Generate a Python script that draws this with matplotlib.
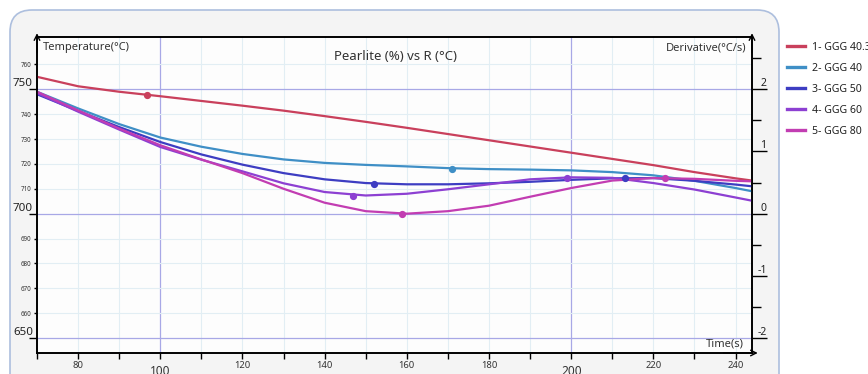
import numpy as np
import matplotlib
matplotlib.use('Agg')
import matplotlib.pyplot as plt
from matplotlib.patches import FancyBboxPatch
from matplotlib.ticker import FixedLocator, FuncFormatter
from matplotlib.lines import Line2D

plt.rcParams['font.family'] = ['Noto Sans', 'DejaVu Sans']
plt.rcParams['axes.unicode_minus'] = False

# --- data ----------------------------------------------------------------
time_s = [70, 80, 90, 100, 110, 120, 130, 140, 150, 160, 170, 180, 190, 200, 210, 220, 230, 240, 244]

ggg_403 = [755.0, 751.2, 749.0, 747.2, 745.3, 743.4, 741.4, 739.2, 736.9, 734.5, 732.0, 729.5, 727.0, 724.5, 722.0, 719.5, 716.7, 714.2, 713.3]
ggg_40 = [749.0, 742.3, 736.0, 730.6, 726.9, 724.0, 721.8, 720.4, 719.6, 719.0, 718.3, 717.9, 717.7, 717.4, 716.7, 715.4, 713.2, 710.3, 709.0]
ggg_50 = [748.0, 741.3, 734.8, 728.8, 723.8, 719.7, 716.3, 713.8, 712.3, 711.8, 711.8, 712.2, 712.8, 713.6, 714.2, 714.3, 713.2, 711.7, 711.0]
ggg_60 = [748.5, 741.0, 733.8, 726.8, 721.7, 717.0, 712.2, 708.7, 707.3, 708.0, 709.8, 711.8, 713.8, 714.6, 714.4, 712.3, 709.7, 706.5, 705.2]
ggg_80 = [749.0, 741.5, 734.2, 727.5, 721.8, 716.3, 710.0, 704.4, 701.0, 700.0, 701.0, 703.2, 706.8, 710.3, 713.3, 714.3, 714.0, 713.2, 713.0]

# marked points on each curve
mark_x_403, mark_y_403 = [96.8], [747.8]
mark_x_40, mark_y_40 = [170.9], [718.1]
mark_x_50, mark_y_50 = [152.0, 213.0], [712.0, 714.5]
mark_x_60, mark_y_60 = [147.0, 198.9], [707.2, 714.3]
mark_x_80, mark_y_80 = [158.9, 222.9], [699.9, 714.3]

series_names = ['1- GGG 40.3', '2- GGG 40', '3- GGG 50', '4- GGG 60', '5- GGG 80']
series_colors = ['#c9405c', '#3f8fc6', '#3d3dc2', '#8d40d2', '#c23db2']

x_ticks = np.arange(70, 250, 10)
x_small_labels = [80, 120, 140, 160, 180, 220, 240]
x_big_labels = [100, 200]
y_big_labels = [650, 700, 750]
y_small_ticks = np.arange(660, 761, 10)
deriv_labels = [-2, -1, 0, 1, 2]
deriv_minor = [-1.5, -0.5, 0.5, 1.5, 2.5]
deriv_zero_temp, deg_per_unit = 700, 25

W, H = 868, 374
fig = plt.figure(figsize=(W / 100, H / 100), dpi=100)
fig.patch.set_facecolor('white')

# --- window background -----------------------------------------------------
bg = fig.add_axes([0, 0, 1, 1], zorder=-5)
bg.set_xlim(0, W)
bg.set_ylim(H, 0)
bg.axis('off')
panel = FancyBboxPatch((10, 10), 769, 420, boxstyle='round,pad=0,rounding_size=22',
                       fc='#f4f4f4', ec='#adbfde', lw=1.2)
bg.add_patch(panel)
grad = np.linspace(0, 1, 60).reshape(-1, 1)
im = bg.imshow(grad, extent=(10, 779, 40, 10), cmap=matplotlib.colors.LinearSegmentedColormap.from_list(
    'hdr', ['#d9d9d9', '#eeeeee']), aspect='auto')
im.set_clip_path(panel)

# --- main axes ---------------------------------------------------------------
ax = fig.add_axes([37 / W, 21 / H, 715 / W, 316 / H])
ax.set_facecolor('#fdfdfd')

datasets = [ggg_403, ggg_40, ggg_50, ggg_60, ggg_80]
marks = [(mark_x_403, mark_y_403), (mark_x_40, mark_y_40), (mark_x_50, mark_y_50),
         (mark_x_60, mark_y_60), (mark_x_80, mark_y_80)]
for vals, (mx, my), c in zip(datasets, marks, series_colors):
    ax.plot(time_s, vals, color=c, lw=1.6, zorder=3, solid_joinstyle='round')
    ax.plot(mx, my, 'o', color=c, ms=4.2, zorder=4)

ax.set_xlim(70, 244)
ax.set_ylim(644, 771)

ax.xaxis.set_major_locator(FixedLocator(x_big_labels))
ax.xaxis.set_minor_locator(FixedLocator(x_ticks))
ax.xaxis.set_minor_formatter(FuncFormatter(lambda v, p: f'{v:.0f}' if round(v) in x_small_labels else ''))
ax.tick_params(axis='x', which='both', direction='out', length=4.3, width=1, color='black')
ax.tick_params(axis='x', which='major', labelsize=8.5, pad=4, labelcolor='#333333')
ax.tick_params(axis='x', which='minor', labelsize=6.8, pad=1.5, labelcolor='#333333')

ax.yaxis.set_major_locator(FixedLocator(y_big_labels))
ax.yaxis.set_minor_locator(FixedLocator(y_small_ticks))
ax.yaxis.set_minor_formatter(FuncFormatter(lambda v, p: f'{v:.0f}'))
ax.tick_params(axis='y', which='major', length=5.8, width=1, labelsize=8.3, pad=-2.9, labelcolor='#222222')
ax.tick_params(axis='y', which='minor', length=2.5, width=1, labelsize=4.5, pad=1.5, labelcolor='#333333')
for lab in ax.get_yticklabels():
    lab.set_va('bottom')

ax.grid(True, which='minor', color='#e2eef4', lw=0.8)
ax.grid(True, which='major', color='#a8a8e6', lw=0.9)
ax.set_axisbelow(True)

for sp in ax.spines.values():
    sp.set_color('black')
    sp.set_linewidth(1.2)

# --- derivative axis -------------------------------------------------------
ax2 = ax.twinx()
ax2.set_ylim((644 - deriv_zero_temp) / deg_per_unit, (771 - deriv_zero_temp) / deg_per_unit)
ax2.yaxis.set_major_locator(FixedLocator(deriv_labels))
ax2.yaxis.set_minor_locator(FixedLocator(deriv_minor))
ax2.tick_params(axis='y', which='major', length=10.5, width=1, labelsize=7.5, pad=0, labelcolor='#222222')
ax2.tick_params(axis='y', which='minor', length=6.5, width=1)
for lab in ax2.get_yticklabels():
    lab.set_ha('right')
    lab.set_va('bottom')
for sp in ax2.spines.values():
    sp.set_color('black')
    sp.set_linewidth(1.2)

# axis arrows
arr = dict(arrowstyle='->', lw=1, color='black', shrinkA=0, shrinkB=0)
ax.annotate('', xy=(0, 1.012), xytext=(0, 0.95), xycoords='axes fraction', arrowprops=arr, annotation_clip=False)
ax.annotate('', xy=(1, 1.012), xytext=(1, 0.95), xycoords='axes fraction', arrowprops=arr, annotation_clip=False)
ax.annotate('', xy=(1.008, 0), xytext=(0.96, 0), xycoords='axes fraction', arrowprops=arr, annotation_clip=False)

# --- texts -----------------------------------------------------------------
ax.text(0.5007, 0.937, 'Pearlite (%) vs R (°C)', transform=ax.transAxes, ha='center', va='center',
        fontsize=9.5, color='#333333')
ax.text(0.008, 0.966, 'Temperature(°C)', transform=ax.transAxes, ha='left', va='center',
        fontsize=8, color='#333333')
ax.text(0.993, 0.966, 'Derivative(°C/s)', transform=ax.transAxes, ha='right', va='center',
        fontsize=8, color='#333333')
ax.text(0.989, 0.027, 'Time(s)', transform=ax.transAxes, ha='right', va='center',
        fontsize=8, color='#333333')

handles = [Line2D([], [], color=c, lw=2.4) for c in series_colors]
fig.legend(handles, series_names, loc='upper left', bbox_to_anchor=(787 / W, 1 - 42 / H),
           frameon=False, fontsize=7.6, handlelength=1.75, handletextpad=0.62,
           labelspacing=0.95, borderpad=0, borderaxespad=0, labelcolor='#222222')

fig.savefig('out.png', dpi=100)
